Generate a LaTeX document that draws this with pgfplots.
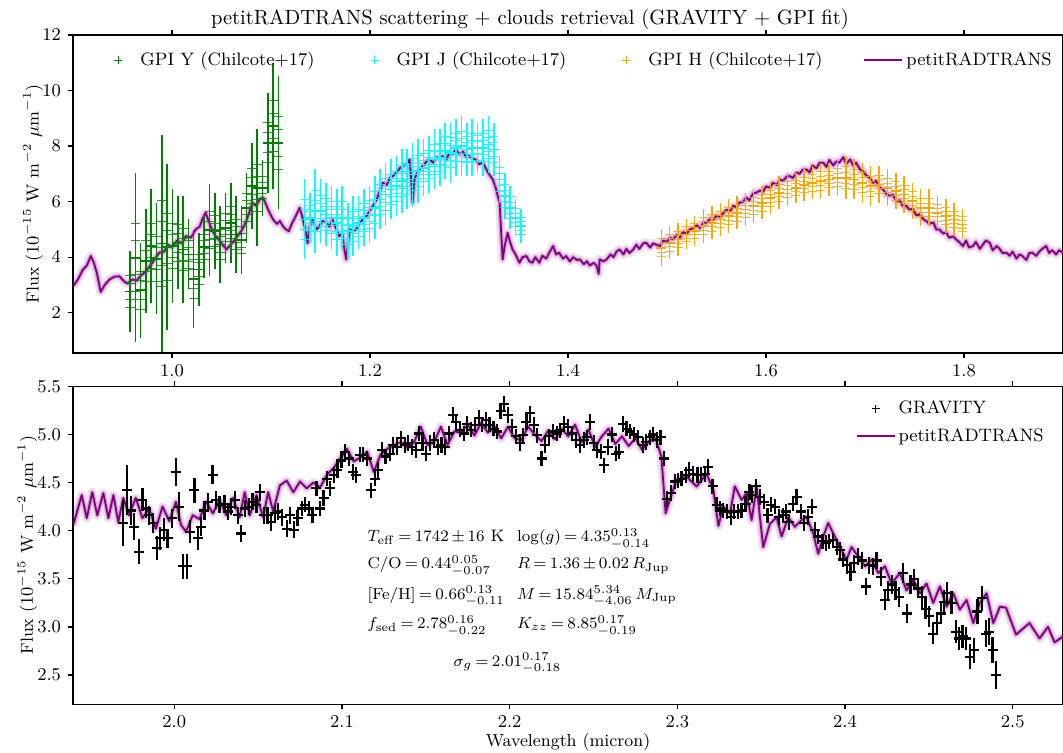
\documentclass[border=0pt]{standalone}
\usepackage{pgfplots}
\pgfplotsset{compat=1.18}
\usepackage{pgfplotstable}
\definecolor{mplpurple}{HTML}{800080}
\definecolor{mplgreen}{HTML}{008000}
\definecolor{mplcyan}{HTML}{00FFFF}
\definecolor{mplorange}{HTML}{FFA500}

\pgfplotstableread{
x y
0.900 2.95
0.905 3.20
0.910 3.55
0.914 3.70
0.918 4.04
0.921 3.80
0.924 3.45
0.928 2.75
0.932 3.00
0.937 3.20
0.942 3.30
0.947 3.31
0.951 3.15
0.955 3.05
0.960 3.20
0.964 3.15
0.969 3.35
0.974 3.50
0.979 3.75
0.983 3.95
0.987 4.16
0.992 4.20
0.996 4.45
1.000 4.35
1.005 4.60
1.010 4.50
1.014 4.76
1.019 4.70
1.024 5.00
1.028 5.10
1.031 5.40
1.034 5.60
1.038 5.20
1.041 4.95
1.044 4.76
1.048 4.60
1.051 4.45
1.055 4.28
1.058 4.40
1.061 4.52
1.065 4.70
1.068 4.85
1.071 5.00
1.075 5.30
1.078 5.60
1.081 5.96
1.085 5.85
1.089 6.10
1.092 6.14
1.095 5.90
1.097 5.72
1.100 5.50
1.102 5.36
1.106 5.20
1.109 5.30
1.112 5.12
1.115 5.00
1.118 4.94
1.121 5.20
1.125 5.48
1.129 5.78
1.132 5.40
1.135 4.95
1.137 4.50
1.139 5.10
1.142 5.36
1.146 5.00
1.149 5.12
1.152 5.30
1.156 5.24
1.159 5.10
1.162 5.36
1.165 5.10
1.169 4.76
1.172 4.85
1.174 4.30
1.176 3.92
1.178 4.60
1.180 5.00
1.183 4.95
1.186 5.00
1.190 5.25
1.193 5.36
1.197 5.50
1.200 5.70
1.203 5.84
1.207 6.10
1.210 6.40
1.213 6.68
1.217 6.60
1.220 6.85
1.223 6.92
1.227 7.05
1.230 7.20
1.233 7.28
1.237 7.35
1.240 7.52
1.242 6.60
1.243 5.96
1.245 6.80
1.247 7.00
1.250 7.16
1.254 7.30
1.257 7.45
1.260 7.52
1.264 7.40
1.267 7.60
1.270 7.55
1.273 7.64
1.277 7.50
1.280 7.75
1.283 7.70
1.287 7.88
1.290 7.70
1.294 7.80
1.297 7.60
1.300 7.64
1.304 7.55
1.307 7.50
1.310 7.35
1.314 7.40
1.317 7.20
1.320 7.00
1.324 6.80
1.327 6.50
1.329 6.20
1.331 5.96
1.332 5.20
1.334 3.92
1.336 4.40
1.339 4.88
1.341 4.60
1.344 4.28
1.347 4.10
1.351 3.80
1.354 4.00
1.358 4.04
1.361 3.85
1.364 3.80
1.367 4.00
1.371 3.80
1.374 4.05
1.378 3.95
1.381 4.16
1.385 4.40
1.388 4.10
1.391 4.16
1.395 3.95
1.398 4.04
1.402 3.85
1.405 4.00
1.409 3.90
1.412 3.92
1.416 3.75
1.419 3.85
1.422 3.70
1.426 3.80
1.429 3.68
1.431 3.40
1.432 3.92
1.436 3.85
1.439 3.92
1.443 4.10
1.446 4.00
1.449 4.20
1.452 4.28
1.456 4.10
1.459 4.30
1.462 4.15
1.466 4.28
1.469 4.45
1.472 4.30
1.476 4.50
1.479 4.52
1.483 4.35
1.486 4.50
1.489 4.45
1.493 4.40
1.496 4.60
1.500 4.55
1.503 4.70
1.506 4.64
1.510 4.80
1.513 4.70
1.516 4.90
1.520 4.85
1.523 5.00
1.527 5.05
1.530 5.15
1.533 5.05
1.537 5.25
1.540 5.24
1.544 5.40
1.547 5.35
1.550 5.50
1.554 5.45
1.557 5.60
1.560 5.70
1.564 5.65
1.567 5.85
1.570 5.80
1.573 5.96
1.577 6.00
1.580 6.15
1.583 6.05
1.587 6.30
1.590 6.32
1.594 6.40
1.597 6.35
1.600 6.55
1.604 6.50
1.607 6.68
1.611 6.60
1.614 6.80
1.617 6.75
1.621 6.90
1.624 6.92
1.627 6.85
1.631 7.05
1.634 7.00
1.637 7.15
1.641 7.16
1.644 7.05
1.647 7.30
1.651 7.20
1.654 7.40
1.658 7.40
1.661 7.25
1.664 7.50
1.668 7.30
1.671 7.45
1.674 7.40
1.678 7.60
1.681 7.35
1.685 7.52
1.688 7.30
1.691 7.40
1.695 7.16
1.698 7.10
1.701 6.95
1.705 6.85
1.708 6.68
1.711 6.75
1.715 6.50
1.718 6.45
1.721 6.30
1.725 6.20
1.728 6.25
1.732 6.00
1.735 6.05
1.738 5.85
1.742 5.84
1.745 5.70
1.748 5.75
1.752 5.50
1.755 5.55
1.759 5.36
1.762 5.30
1.765 5.20
1.769 5.25
1.772 5.00
1.775 5.00
1.779 4.85
1.782 4.90
1.785 4.70
1.789 4.75
1.792 4.64
1.795 4.55
1.799 4.40
1.802 4.60
1.805 4.35
1.809 4.40
1.812 4.55
1.816 4.30
1.819 4.45
1.822 4.60
1.826 4.52
1.829 4.25
1.833 4.40
1.836 4.30
1.839 4.15
1.843 4.16
1.846 4.05
1.849 4.20
1.853 3.95
1.856 4.10
1.859 4.04
1.863 3.90
1.866 4.15
1.869 4.16
1.873 4.05
1.876 4.20
1.879 4.30
1.883 4.40
1.886 4.15
1.889 4.25
1.893 4.10
1.896 4.25
1.900 4.16
}\modeltop

\pgfplotstableread{
x y e
0.9576 2.77 1.47
0.9630 3.98 3.05
0.9683 2.81 1.71
0.9737 3.86 1.86
0.9790 4.40 2.04
0.9844 3.94 2.00
0.9897 4.49 3.90
0.9951 4.37 3.00
1.0004 4.40 2.04
1.0058 4.52 1.68
1.0112 4.28 1.92
1.0165 4.10 1.26
1.0219 3.22 1.77
1.0272 3.56 1.32
1.0326 4.37 1.11
1.0379 4.97 1.65
1.0433 4.94 1.38
1.0486 4.46 1.38
1.0540 5.06 1.26
1.0594 5.24 1.44
1.0647 4.82 1.38
1.0701 4.61 1.23
1.0754 5.78 1.26
1.0808 6.56 1.56
1.0861 6.50 2.10
1.0915 6.50 1.00
1.0968 8.12 1.80
1.1022 8.72 2.28
1.1074 8.12 2.40
}\gpiy

\pgfplotstableread{
x y e
1.1337 5.36 1.44
1.1392 5.42 0.90
1.1446 5.66 1.50
1.1501 5.66 1.14
1.1556 5.54 1.14
1.1610 5.42 1.14
1.1665 5.24 1.20
1.1720 5.42 1.14
1.1775 4.94 1.00
1.1829 5.12 1.08
1.1884 5.24 0.96
1.1939 5.42 1.02
1.1993 5.54 1.02
1.2048 5.78 1.14
1.2103 6.08 1.08
1.2157 6.26 1.14
1.2212 6.44 1.08
1.2267 6.56 1.08
1.2321 6.74 1.14
1.2376 6.80 1.08
1.2431 6.98 1.14
1.2486 7.10 1.14
1.2540 7.22 1.02
1.2595 7.34 1.02
1.2650 7.52 1.08
1.2704 7.58 1.02
1.2759 7.82 1.02
1.2814 7.76 1.08
1.2868 7.94 1.02
1.2923 8.00 1.08
1.2978 7.88 0.96
1.3032 7.94 1.02
1.3087 7.94 0.90
1.3142 7.94 1.02
1.3196 8.06 1.02
1.3251 7.88 0.96
1.3306 6.80 0.84
1.3361 6.20 0.84
1.3415 5.78 0.78
1.3470 5.42 0.66
1.3525 5.12 0.60
}\gpij

\pgfplotstableread{
x y e
1.4943 4.34 0.66
1.5027 4.52 0.60
1.5111 4.64 0.60
1.5195 4.82 0.54
1.5279 4.94 0.54
1.5370 5.12 0.60
1.5455 5.24 0.60
1.5539 5.36 0.60
1.5623 5.48 0.60
1.5707 5.60 0.60
1.5791 5.72 0.60
1.5875 5.84 0.60
1.5960 5.96 0.60
1.6044 6.12 0.57
1.6131 6.32 0.60
1.6215 6.44 0.60
1.6300 6.50 0.54
1.6384 6.60 0.57
1.6468 6.68 0.60
1.6552 6.74 0.66
1.6636 6.80 0.60
1.6721 6.86 0.66
1.6805 6.86 0.78
1.6889 6.80 0.72
1.6973 6.68 0.72
1.7057 6.56 0.72
1.7141 6.62 0.66
1.7226 6.50 0.66
1.7310 6.38 0.66
1.7394 6.26 0.66
1.7478 6.02 0.66
1.7562 5.78 0.66
1.7646 5.78 0.66
1.7731 5.60 0.60
1.7815 5.48 0.60
1.7899 5.36 0.60
1.7983 5.18 0.54
}\gpih

\pgfplotstableread{
x y
1.9398 4.06
1.9448 4.37
1.9478 4.13
1.9511 4.40
1.9541 4.16
1.9577 4.39
1.9607 4.13
1.9637 4.37
1.9666 4.09
1.9696 4.34
1.9730 4.16
1.9770 4.34
1.9810 4.13
1.9850 4.23
1.9890 4.02
1.9930 4.25
1.9970 4.10
2.0010 4.30
2.0040 4.06
2.0070 3.99
2.0110 4.16
2.0150 4.12
2.0190 4.30
2.0230 4.18
2.0270 4.32
2.0310 4.16
2.0350 4.34
2.0390 4.14
2.0420 4.40
2.0450 4.16
2.0490 4.37
2.0530 4.14
2.0560 4.40
2.0590 4.20
2.0630 4.47
2.0670 4.52
2.0710 4.40
2.0750 4.51
2.0790 4.44
2.0830 4.50
2.0870 4.45
2.0910 4.58
2.0950 4.65
2.0990 4.75
2.1030 4.85
2.1070 4.72
2.1110 4.76
2.1150 4.82
2.1190 4.61
2.1230 4.79
2.1270 4.85
2.1310 4.89
2.1350 4.92
2.1390 4.86
2.1430 4.92
2.1470 5.08
2.1510 4.89
2.1550 4.92
2.1590 5.08
2.1630 4.89
2.1670 5.03
2.1710 5.02
2.1750 5.10
2.1790 4.99
2.1830 5.12
2.1870 5.02
2.1910 5.08
2.1950 4.96
2.1990 5.08
2.2030 4.96
2.2070 4.94
2.2110 5.08
2.2150 5.00
2.2190 4.93
2.2230 5.04
2.2270 4.95
2.2310 5.06
2.2350 4.98
2.2390 5.10
2.2430 4.92
2.2470 5.05
2.2510 4.87
2.2550 4.98
2.2590 5.06
2.2630 4.90
2.2670 4.98
2.2710 4.88
2.2750 4.96
2.2790 4.84
2.2830 4.93
2.2870 4.96
2.2905 4.77
2.2930 4.18
2.2955 4.32
2.2995 4.53
2.3055 4.56
2.3115 4.46
2.3175 4.59
2.3215 4.42
2.3245 4.05
2.3274 4.25
2.3314 4.18
2.3343 4.46
2.3383 4.32
2.3413 4.39
2.3443 4.11
2.3473 4.46
2.3512 3.83
2.3552 4.07
2.3592 4.14
2.3622 3.94
2.3661 4.14
2.3701 4.04
2.3741 4.11
2.3771 4.14
2.3811 3.97
2.3840 3.76
2.3870 3.94
2.3900 4.08
2.3930 3.97
2.3970 3.83
2.4009 3.70
2.4039 3.83
2.4079 3.73
2.4119 3.63
2.4158 3.70
2.4198 3.56
2.4238 3.63
2.4278 3.45
2.4327 3.56
2.4367 3.38
2.4407 3.49
2.4447 3.35
2.4486 3.45
2.4526 3.25
2.4566 3.42
2.4606 3.21
2.4645 3.35
2.4685 3.18
2.4725 3.28
2.4765 3.04
2.4804 3.25
2.4844 3.35
2.4884 3.04
2.4924 3.21
2.4960 3.20
2.5020 2.92
2.5100 3.04
2.5160 2.88
2.5210 3.00
2.5250 2.84
2.5300 2.90
}\modelbot

\pgfplotstableread{
x y e
1.9696 4.08 0.24
1.9720 4.42 0.26
1.9740 4.21 0.15
1.9760 4.04 0.14
1.9790 3.78 0.13
1.9810 4.32 0.12
1.9830 4.23 0.10
1.9850 4.16 0.10
1.9875 4.08 0.10
1.9895 3.82 0.12
1.9915 3.92 0.12
1.9940 4.01 0.12
1.9960 3.92 0.10
1.9986 4.13 0.10
2.0008 4.61 0.15
2.0030 4.25 0.15
2.0050 3.63 0.13
2.0074 3.63 0.13
2.0093 3.99 0.12
2.0120 4.42 0.13
2.0140 3.92 0.12
2.0160 4.04 0.10
2.0180 4.21 0.10
2.0200 4.30 0.09
2.0228 4.58 0.10
2.0250 4.32 0.09
2.0270 4.27 0.09
2.0300 4.28 0.09
2.0320 4.20 0.09
2.0340 4.25 0.09
2.0360 4.32 0.09
2.0380 4.16 0.09
2.0400 3.97 0.09
2.0420 4.23 0.09
2.0445 4.25 0.09
2.0467 4.30 0.09
2.0490 4.27 0.09
2.0512 4.40 0.09
2.0534 4.16 0.09
2.0556 4.16 0.09
2.0576 4.09 0.09
2.0600 4.18 0.09
2.0620 4.20 0.09
2.0644 4.14 0.09
2.0670 4.02 0.09
2.0690 4.16 0.09
2.0713 4.01 0.09
2.0735 4.13 0.08
2.0760 4.23 0.08
2.0780 4.27 0.08
2.0804 4.23 0.08
2.0824 4.16 0.08
2.0848 4.44 0.08
2.0868 4.23 0.08
2.0890 4.34 0.08
2.0910 4.54 0.08
2.0931 4.44 0.08
2.0953 4.58 0.08
2.0973 4.63 0.08
2.0997 4.73 0.08
2.1020 4.82 0.08
2.1043 4.75 0.08
2.1066 4.61 0.08
2.1086 4.58 0.08
2.1106 4.79 0.08
2.1126 4.79 0.08
2.1150 4.75 0.08
2.1175 4.42 0.08
2.1196 4.54 0.08
2.1216 4.63 0.08
2.1240 4.84 0.08
2.1260 4.77 0.08
2.1285 4.80 0.08
2.1305 4.89 0.08
2.1330 4.87 0.08
2.1350 4.96 0.08
2.1374 4.89 0.08
2.1394 4.91 0.08
2.1420 4.87 0.08
2.1440 4.84 0.08
2.1460 5.01 0.08
2.1480 4.91 0.08
2.1503 4.80 0.08
2.1527 4.91 0.08
2.1550 4.94 0.08
2.1573 4.87 0.08
2.1593 4.89 0.08
2.1615 4.87 0.08
2.1639 5.01 0.08
2.1662 5.20 0.08
2.1680 5.13 0.08
2.1706 5.05 0.08
2.1726 5.01 0.08
2.1746 5.11 0.08
2.1770 5.05 0.08
2.1793 5.10 0.08
2.1816 5.17 0.08
2.1837 5.10 0.08
2.1860 5.15 0.08
2.1880 5.10 0.08
2.1904 5.06 0.08
2.1926 5.03 0.08
2.1946 5.24 0.08
2.1966 5.32 0.08
2.1990 5.20 0.08
2.2016 5.08 0.08
2.2036 4.98 0.08
2.2060 4.91 0.08
2.2080 4.99 0.08
2.2100 5.13 0.08
2.2123 5.22 0.08
2.2145 5.10 0.08
2.2165 4.99 0.08
2.2190 4.75 0.08
2.2210 4.89 0.08
2.2233 4.98 0.08
2.2260 5.03 0.08
2.2282 5.01 0.08
2.2300 5.04 0.08
2.2324 5.11 0.08
2.2350 5.08 0.08
2.2373 5.01 0.08
2.2395 4.94 0.08
2.2419 4.89 0.08
2.2443 4.94 0.08
2.2460 4.97 0.08
2.2480 5.13 0.08
2.2503 4.91 0.08
2.2522 4.84 0.08
2.2544 4.82 0.08
2.2564 4.68 0.08
2.2588 4.87 0.08
2.2612 5.00 0.08
2.2634 4.80 0.08
2.2654 4.82 0.08
2.2677 5.11 0.08
2.2697 5.06 0.08
2.2720 5.03 0.08
2.2743 5.00 0.08
2.2767 4.97 0.08
2.2793 4.89 0.08
2.2812 4.92 0.08
2.2837 4.97 0.08
2.2856 5.00 0.08
2.2880 4.94 0.08
2.2900 4.97 0.08
2.2920 4.75 0.08
2.2940 4.33 0.08
2.2960 4.39 0.08
2.2985 4.51 0.08
2.3005 4.52 0.08
2.3025 4.54 0.08
2.3050 4.58 0.08
2.3070 4.63 0.08
2.3095 4.59 0.08
2.3120 4.58 0.08
2.3140 4.58 0.08
2.3165 4.59 0.08
2.3185 4.66 0.08
2.3210 4.46 0.08
2.3234 4.27 0.08
2.3254 4.23 0.08
2.3274 4.21 0.08
2.3294 4.20 0.08
2.3318 4.14 0.08
2.3340 4.20 0.08
2.3363 4.20 0.08
2.3383 4.21 0.08
2.3407 4.28 0.08
2.3430 4.40 0.08
2.3447 4.37 0.08
2.3469 4.46 0.08
2.3493 4.35 0.08
2.3516 4.30 0.08
2.3538 4.16 0.08
2.3558 4.27 0.08
2.3582 4.25 0.08
2.3606 4.14 0.08
2.3628 4.16 0.08
2.3648 4.20 0.08
2.3668 4.09 0.08
2.3691 4.28 0.08
2.3711 4.35 0.08
2.3737 4.20 0.08
2.3757 4.08 0.08
2.3780 4.14 0.08
2.3803 4.25 0.08
2.3823 4.01 0.08
2.3840 3.94 0.08
2.3866 3.89 0.08
2.3886 3.87 0.08
2.3906 3.89 0.08
2.3926 3.90 0.08
2.3950 3.83 0.08
2.3970 3.80 0.08
2.3990 3.70 0.08
2.4014 3.64 0.09
2.4033 3.57 0.09
2.4055 3.66 0.09
2.4079 3.73 0.09
2.4103 3.69 0.09
2.4123 3.42 0.09
2.4145 3.64 0.09
2.4168 3.63 0.09
2.4188 3.69 0.09
2.4214 3.52 0.10
2.4238 3.28 0.10
2.4258 3.38 0.10
2.4278 3.44 0.10
2.4301 3.38 0.10
2.4324 3.31 0.10
2.4347 3.56 0.10
2.4371 3.14 0.10
2.4391 3.44 0.10
2.4413 3.50 0.10
2.4437 3.40 0.10
2.4457 3.31 0.11
2.4480 3.19 0.11
2.4502 3.11 0.11
2.4526 2.93 0.11
2.4550 3.04 0.11
2.4570 3.14 0.11
2.4590 3.26 0.12
2.4610 3.35 0.12
2.4635 3.25 0.12
2.4660 2.95 0.12
2.4679 2.88 0.12
2.4701 2.90 0.12
2.4720 2.88 0.12
2.4745 2.69 0.13
2.4770 2.76 0.13
2.4790 3.16 0.13
2.4815 3.30 0.13
2.4840 2.93 0.14
2.4860 2.95 0.14
2.4880 2.76 0.14
2.4900 2.50 0.15
}\gravity

\pgfplotsset{
  panel/.style={
    scale only axis, width=495pt, height=159pt,
    axis line style={line width=0.6pt},
    tick align=outside, major tick length=2.5pt,
    every tick/.style={black, line width=0.6pt},
    minor tick num=0,
    ticklabel style={font=\fontsize{9}{11}\selectfont},
    every axis x label/.style={at={(axis description cs:0.5,-0.118)}, anchor=center, font=\fontsize{8.7}{10}\selectfont},
    ylabel={Flux ($10^{-15}$ W m$^{-2}$ $\mu$m$^{-1}$)},
    legend style={draw=none, fill=none, font=\fontsize{9}{10}\selectfont, inner sep=0pt,
      /tikz/every odd column/.append style={column sep=-0.5pt}},
    legend cell align=left,
  },
  modelband/.style={mplpurple, opacity=0.12, line width=4.5pt, line join=round, forget plot},
  modelband2/.style={mplpurple, opacity=0.25, line width=2.2pt, line join=round, forget plot},
  modelline/.style={mplpurple, line width=0.9pt, line join=round, forget plot},
  gpi/.style={only marks, mark=+, mark size=2.5pt, line width=0.8pt, forget plot,
    error bars/y dir=both, error bars/y explicit, error bars/x dir=both,
    error bars/x fixed=0.004, error bars/error mark=none,
    error bars/error bar style={line width=0.8pt}},
  gpiextra/.style={only marks, mark=+, mark size=2.3pt, line width=0.5pt, forget plot, opacity=0.8},
}

\begin{document}
\begin{tikzpicture}
\path[use as bounding box] (-36.5pt,-24.35pt) rectangle (495pt,352.15pt);

\node[anchor=base, font=\fontsize{10.3}{12}\selectfont] at (228.5pt,339.65pt)
  {petitRADTRANS scattering + clouds retrieval (GRAVITY + GPI fit)};

% top panel
\begin{axis}[panel, at={(0pt,175.65pt)}, anchor=south west,
  every axis y label/.style={at={(axis description cs:-0.0404,0.5)}, rotate=90, anchor=center, font=\fontsize{8.7}{10}\selectfont},
  xmin=0.9, xmax=1.9, ymin=0.55, ymax=12,
  xtick={1.0,1.2,1.4,1.6,1.8}, ytick={2,4,6,8,10,12},
  xticklabel style={/pgf/number format/fixed, /pgf/number format/fixed zerofill, /pgf/number format/precision=1},
  legend columns=4,
  legend style={at={(axis description cs:0.0263,0.921)}, anchor=west,
    /tikz/every even column/.append style={column sep=18.5pt}},
]
\addplot[modelband] table[x=x,y=y] {\modeltop};
\addplot[modelband2] table[x=x,y=y] {\modeltop};
\addplot[modelline] table[x=x,y=y] {\modeltop};
\addplot[mplgreen, gpi] table[x=x,y=y,y error=e] {\gpiy};
\addplot[mplcyan, gpi] table[x=x,y=y,y error=e] {\gpij};
\addplot[mplorange, gpi] table[x=x,y=y,y error=e] {\gpih};
% repeated cross marks along the bars
\addplot[mplgreen, gpiextra] table[x=x, y expr=\thisrow{y}+0.2*\thisrow{e}] {\gpiy};
\addplot[mplgreen, gpiextra] table[x=x, y expr=\thisrow{y}-0.2*\thisrow{e}] {\gpiy};
\addplot[mplgreen, gpiextra] table[x=x, y expr=\thisrow{y}+0.4*\thisrow{e}] {\gpiy};
\addplot[mplgreen, gpiextra] table[x=x, y expr=\thisrow{y}-0.4*\thisrow{e}] {\gpiy};
\addplot[mplcyan, gpiextra] table[x=x, y expr=\thisrow{y}+0.25*\thisrow{e}] {\gpij};
\addplot[mplcyan, gpiextra] table[x=x, y expr=\thisrow{y}-0.25*\thisrow{e}] {\gpij};
\addplot[mplcyan, gpiextra] table[x=x, y expr=\thisrow{y}+0.5*\thisrow{e}] {\gpij};
\addplot[mplcyan, gpiextra] table[x=x, y expr=\thisrow{y}-0.5*\thisrow{e}] {\gpij};
\addplot[mplorange, gpiextra] table[x=x, y expr=\thisrow{y}+0.25*\thisrow{e}] {\gpih};
\addplot[mplorange, gpiextra] table[x=x, y expr=\thisrow{y}-0.25*\thisrow{e}] {\gpih};
\addplot[mplorange, gpiextra] table[x=x, y expr=\thisrow{y}+0.5*\thisrow{e}] {\gpih};
\addplot[mplorange, gpiextra] table[x=x, y expr=\thisrow{y}-0.5*\thisrow{e}] {\gpih};
\addlegendimage{legend image code/.code={\path[draw=none] (0pt,0pt) -- (19pt,0pt); \draw[mplgreen, line width=0.6pt] plot[only marks, mark=+, mark size=2pt] coordinates {(9.5pt,0pt)};}}
\addlegendentry{GPI Y (Chilcote+17)}
\addlegendimage{legend image code/.code={\path[draw=none] (0pt,0pt) -- (19pt,0pt); \draw[mplcyan, line width=0.6pt] plot[only marks, mark=+, mark size=2pt] coordinates {(9.5pt,0pt)};}}
\addlegendentry{GPI J (Chilcote+17)}
\addlegendimage{legend image code/.code={\path[draw=none] (0pt,0pt) -- (19pt,0pt); \draw[mplorange, line width=0.6pt] plot[only marks, mark=+, mark size=2pt] coordinates {(9.5pt,0pt)};}}
\addlegendentry{GPI H (Chilcote+17)}
\addlegendimage{legend image code/.code={\draw[mplpurple, line width=1pt] (0pt,0pt) -- (19pt,0pt);}}
\addlegendentry{petitRADTRANS}
\end{axis}

% bottom panel
\begin{axis}[panel, at={(0pt,0pt)}, anchor=south west,
  every axis y label/.style={at={(axis description cs:-0.046,0.5)}, rotate=90, anchor=center, font=\fontsize{8.7}{10}\selectfont},
  xmin=1.9396, xmax=2.530, ymin=2.196, ymax=5.5,
  xtick={2.0,2.1,2.2,2.3,2.4,2.5}, ytick={2.5,3.0,3.5,4.0,4.5,5.0,5.5},
  xticklabel style={/pgf/number format/fixed, /pgf/number format/fixed zerofill, /pgf/number format/precision=1},
  yticklabel style={/pgf/number format/fixed, /pgf/number format/fixed zerofill, /pgf/number format/precision=1},
  xlabel={Wavelength (micron)},
  legend columns=1,
  legend style={at={(axis description cs:0.79,0.968)}, anchor=north west, row sep=1.8pt},
]
\addplot[modelband] table[x=x,y=y] {\modelbot};
\addplot[modelband2] table[x=x,y=y] {\modelbot};
\addplot[modelline] table[x=x,y=y] {\modelbot};
\addplot[black, only marks, mark=+, mark size=2.5pt, line width=1.1pt, forget plot,
    error bars/y dir=both, error bars/y explicit, error bars/x dir=both,
    error bars/x fixed=0.0026, error bars/error mark=none,
    error bars/error bar style={line width=1.1pt}]
  table[x=x,y=y,y error=e] {\gravity};
\addlegendimage{legend image code/.code={\path[draw=none] (0pt,0pt) -- (19pt,0pt); \draw[black, line width=0.6pt] plot[only marks, mark=+, mark size=2pt] coordinates {(9.5pt,0pt)};}}
\addlegendentry{GRAVITY}
\addlegendimage{legend image code/.code={\draw[mplpurple, line width=1pt] (0pt,0pt) -- (19pt,0pt);}}
\addlegendentry{petitRADTRANS}

\begin{scope}[every node/.style={font=\fontsize{8.3}{10}\selectfont, anchor=base west, inner sep=0pt},
  execute at begin node={\thickmuskip=3.5mu plus 2mu\medmuskip=3mu plus 1mu}]
\node at (axis cs:2.1151,3.885) {$T_{\mathrm{eff}} = 1742 \pm 16$ K};
\node at (axis cs:2.1151,3.602) {$\mathrm{C/O} = 0.44^{0.05}_{-0.07}$};
\node at (axis cs:2.1151,3.290) {$[\mathrm{Fe/H}] = 0.66^{0.13}_{-0.11}$};
\node at (axis cs:2.1151,2.979) {$f_{\mathrm{sed}} = 2.78^{0.16}_{-0.22}$};
\node at (axis cs:2.2042,3.885) {$\log(g) = 4.35^{0.13}_{-0.14}$};
\node at (axis cs:2.2042,3.602) {$R = 1.36 \pm 0.02\,R_{\mathrm{Jup}}$};
\node at (axis cs:2.2042,3.290) {$M = 15.84^{5.34}_{-4.06}\,M_{\mathrm{Jup}}$};
\node at (axis cs:2.2042,2.979) {$K_{zz} = 8.85^{0.17}_{-0.19}$};
\node at (axis cs:2.1664,2.588) {$\sigma_{g} = 2.01^{0.17}_{-0.18}$};
\end{scope}
\end{axis}
\end{tikzpicture}
\end{document}
